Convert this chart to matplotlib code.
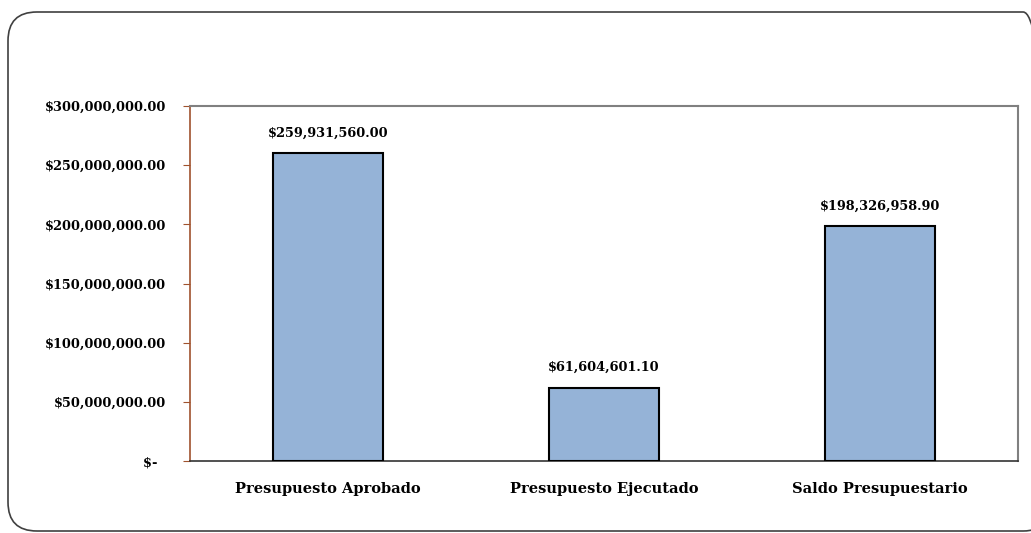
import matplotlib
matplotlib.use("Agg")
import matplotlib.pyplot as plt
from matplotlib.patches import FancyBboxPatch
from matplotlib.ticker import FuncFormatter

categories = ["Presupuesto Aprobado", "Presupuesto Ejecutado", "Saldo Presupuestario"]
values = [259931560.00, 61604601.10, 198326958.90]
ytick_vals = [0, 50000000, 100000000, 150000000, 200000000, 250000000, 300000000]

plt.rcParams['font.family'] = ['DejaVu Serif']

fig = plt.figure(figsize=(10.31, 5.33), dpi=100)
W, H = 1031, 533

# rounded outer frame
frame = FancyBboxPatch((8 / W, 2 / H), (1052 - 8) / W, 519 / H,
                       boxstyle="round,pad=0,rounding_size=0.028",
                       transform=fig.transFigure, fill=False,
                       edgecolor="#404040", linewidth=1.2, mutation_aspect=W / H)
fig.patches.append(frame)

ax = fig.add_axes([190 / W, (H - 461) / H, (1018 - 190) / W, (461 - 106) / H])
x = range(len(categories))
ax.bar(x, values, width=0.4, color="#95B3D7", edgecolor="black", linewidth=1.5, zorder=3)
ax.set_xlim(-0.5, 2.5)
ax.set_ylim(0, 300000000)
ax.set_yticks(ytick_vals)

def fmt(v, pos):
    if v == 0:
        return "$-  "
    return "${:,.2f}".format(v)

ax.yaxis.set_major_formatter(FuncFormatter(fmt))
ax.set_xticks(list(x))
ax.set_xticklabels(categories, fontsize=10.5, fontweight="bold")
for lbl in ax.get_yticklabels():
    lbl.set_fontweight("bold")
    lbl.set_fontsize(9.3)
ax.tick_params(axis="y", direction="out", length=5, color="#A0522D", pad=12)
ax.tick_params(axis="x", length=0, pad=15)
ax.spines["left"].set_color("#A0522D")
ax.spines["left"].set_linewidth(1.2)
ax.spines["bottom"].set_color("#333333")
ax.spines["bottom"].set_linewidth(1.2)
ax.spines["top"].set_color("#808080")
ax.spines["right"].set_color("#808080")
ax.spines["top"].set_linewidth(1.5)
ax.spines["right"].set_linewidth(1.5)

for xi, v in zip(x, values):
    ax.annotate("${:,.2f}".format(v), (xi, v), xytext=(0, 10), textcoords="offset points",
                ha="center", va="bottom", fontsize=9.3, fontweight="bold")

fig.savefig("out.png", dpi=100)
